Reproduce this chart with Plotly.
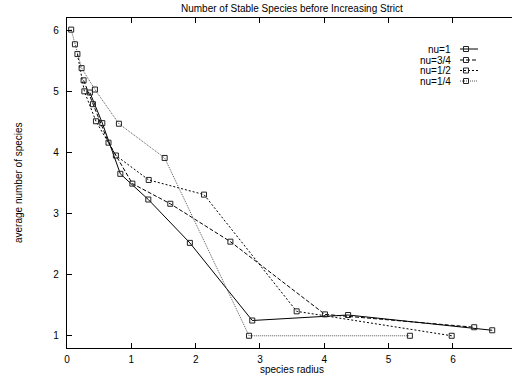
import plotly.graph_objects as go

# ---- data ----
nu1_x = [0.356, 0.549, 0.829, 1.264, 1.91, 2.88, 4.37, 6.61]
nu1_y = [4.98, 4.48, 3.65, 3.23, 2.52, 1.25, 1.34, 1.09]

nu34_x = [0.258, 0.403, 0.645, 1.016, 1.606, 2.54, 4.01, 6.33]
nu34_y = [5.18, 4.79, 4.16, 3.49, 3.16, 2.54, 1.35, 1.14]

nu12_x = [0.162, 0.27, 0.45, 0.76, 1.27, 2.13, 3.57, 5.98]
nu12_y = [5.61, 5.00, 4.51, 3.95, 3.55, 3.31, 1.40, 1.00]

nu14_x = [0.065, 0.123, 0.227, 0.434, 0.807, 1.518, 2.83, 5.33]
nu14_y = [6.01, 5.77, 5.38, 5.03, 4.47, 3.91, 1.00, 1.00]

series_names = ["nu=1", "nu=3/4", "nu=1/2", "nu=1/4"]
x_ticks = [0, 1, 2, 3, 4, 5, 6]
y_ticks = [1, 2, 3, 4, 5, 6]

title_text = "Number of Stable Species before Increasing Strict"
x_title = "species radius"
y_title = "average number of species"

# ---- styles ----
FONT = "Liberation Sans, Arial, Helvetica, sans-serif"
W, H = 512, 376
L, R, T, B = 67, 0, 18, 28
PW, PH = W - L - R, H - T - B


def px(xp):
    return (xp - L) / PW


def py(yp):
    return (H - B - yp) / PH


styles = [
    dict(color="#000000", width=1.0, dash="solid"),
    dict(color="#000000", width=1.0, dash="4px,2px"),
    dict(color="#000000", width=1.0, dash="2px,2px"),
    dict(color="#444444", width=0.9, dash="1px,1px"),
]
marker = dict(symbol="square-open", size=5, color="#222222", line=dict(width=1, color="#222222"))

fig = go.Figure()
data = [(nu1_x, nu1_y), (nu34_x, nu34_y), (nu12_x, nu12_y), (nu14_x, nu14_y)]
for (xs, ys), name, st in zip(data, series_names, styles):
    fig.add_trace(go.Scatter(x=xs, y=ys, mode="lines+markers", name=name,
                             line=st, marker=marker, showlegend=False,
                             cliponaxis=False))

# ---- custom legend (text left of sample, like gnuplot) ----
leg_rows = [49, 60, 70.5, 81]
for name, st, ly in zip(series_names, styles, leg_rows):
    fig.add_trace(go.Scatter(x=[460, 478], y=[ly, ly], xaxis="x2", yaxis="y2",
                             mode="lines", line=st, showlegend=False, hoverinfo="skip"))
    fig.add_trace(go.Scatter(x=[466], y=[ly], xaxis="x2", yaxis="y2",
                             mode="markers", marker=marker, showlegend=False, hoverinfo="skip"))
    fig.add_annotation(x=px(453), y=py(ly), xref="paper", yref="paper", text=name,
                       showarrow=False, xanchor="right", yanchor="middle",
                       font=dict(family=FONT, size=10, color="#000"))

axis_common = dict(ticks="inside", ticklen=5, tickcolor="#000", tickwidth=1,
                   showline=True, linecolor="#000", linewidth=1.2,
                   showgrid=False, zeroline=False, automargin=False,
                   tickfont=dict(family=FONT, size=10, color="#000"))

fig.update_layout(
    width=W, height=H,
    margin=dict(l=L, r=R, t=T, b=B, pad=0, autoexpand=False),
    paper_bgcolor="white", plot_bgcolor="white",
    showlegend=False,
    xaxis=dict(range=[0, PW / 64.33], tickvals=x_ticks, mirror="ticks",
               ticklabelstandoff=2, **axis_common),
    yaxis=dict(range=[0.8, 6.2], tickvals=y_ticks, mirror=False,
               ticklabelstandoff=5, **axis_common),
    xaxis2=dict(range=[L, W], overlaying="x", visible=False, fixedrange=True,
                automargin=False),
    yaxis2=dict(range=[H - B, T], overlaying="y", visible=False, fixedrange=True,
                automargin=False),
)

fig.add_annotation(x=px(292), y=py(8), xref="paper", yref="paper", text=title_text,
                   showarrow=False, xanchor="center", yanchor="middle",
                   font=dict(family=FONT, size=10, color="#000"))
fig.add_annotation(x=px(292), y=py(369), xref="paper", yref="paper", text=x_title,
                   showarrow=False, xanchor="center", yanchor="middle",
                   font=dict(family=FONT, size=10, color="#000"))
fig.add_annotation(x=px(18), y=py(183), xref="paper", yref="paper", text=y_title,
                   textangle=-90, showarrow=False, xanchor="center", yanchor="middle",
                   font=dict(family=FONT, size=10, color="#000"))

fig.write_html(
    "out.html",
    include_plotlyjs=True,
    config={"displayModeBar": False},
    post_script="document.body.style.margin='0';document.body.style.padding='0';"
                "document.body.style.overflow='hidden';",
)
